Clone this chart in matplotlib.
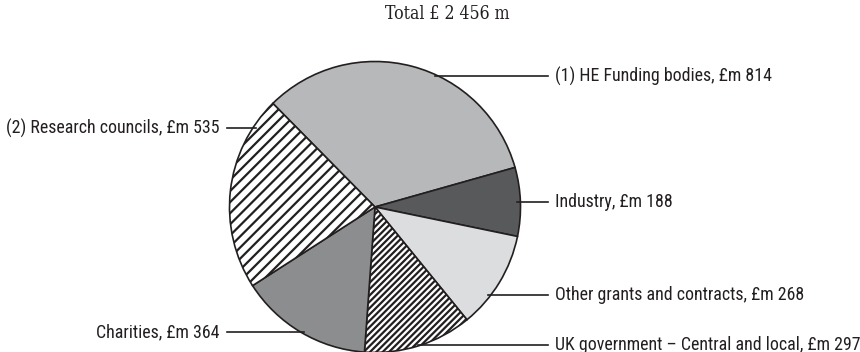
import matplotlib.pyplot as plt
from matplotlib import font_manager
import numpy as np

# Income sources, £m (clockwise from the top-left boundary)
sources = ["(1) HE Funding bodies", "Industry", "Other grants and contracts",
           "UK government – Central and local", "Charities", "(2) Research councils"]
amounts = [814, 188, 268, 297, 364, 535]
total_label = "Total £ 2 456 m"

colors = ["#b7b8ba", "#58595b", "#dcdddf", "white", "#8c8d8f", "white"]
hatches = [None, None, None, "///////", None, "////"]

W, H = 860, 352
plt.rcParams["hatch.linewidth"] = 1.2
plt.rcParams["hatch.color"] = "#1a1a1a"

# pick a narrow sans for the labels if one is around
installed = {f.name for f in font_manager.fontManager.ttflist}
label_font = dict(family=["DejaVu Sans"], fontstretch="condensed", fontsize=8.8)
for cand in ["Roboto Condensed", "Liberation Sans Narrow", "Open Sans Condensed"]:
    if cand in installed:
        label_font = dict(family=[cand, "DejaVu Sans"], fontsize=9.7)
        break

fig = plt.figure(figsize=(W / 133.333, H / 133.333), dpi=133.333)
ax = fig.add_axes([0, 0, 1, 1])

cx, cy, r = 375, H - 207, 145.5
wedges, _ = ax.pie(amounts, colors=colors, startangle=134.6, counterclock=False,
                   center=(cx, cy), radius=r, frame=True,
                   wedgeprops=dict(edgecolor="#231f20", linewidth=0.9))
for w, h in zip(wedges, hatches):
    if h:
        w.set_hatch(h)
ax.set_xlim(0, W)
ax.set_ylim(0, H)
ax.set_aspect("equal")
ax.axis("off")

# label rows: y in pixels from the top, side of the pie
rows = {0: (76, "right"), 1: (202, "right"), 2: (295, "right"),
        3: (345, "right"), 4: (332, "left"), 5: (128, "left")}
for i, (name, val) in enumerate(zip(sources, amounts)):
    yp, side = rows[i]
    y = H - yp
    dx = np.sqrt(max(r ** 2 - (y - cy) ** 2, 0))
    txt = f"{name}, £m {val}"
    if side == "right":
        ax.plot([cx + dx - 3, 548], [y, y], color="#231f20", lw=0.9)
        ax.text(555, y, txt, ha="left", va="center", color="#231f20", **label_font)
    else:
        ax.plot([227, cx - dx + 3], [y, y], color="#231f20", lw=0.9)
        ax.text(219, y, txt, ha="right", va="center", color="#231f20", **label_font)

ax.text(447, H - 14, total_label, ha="center", va="center",
        family="DejaVu Serif", fontstretch="condensed", fontsize=9.5, color="#231f20")

fig.savefig("out.png", dpi=133.333)
